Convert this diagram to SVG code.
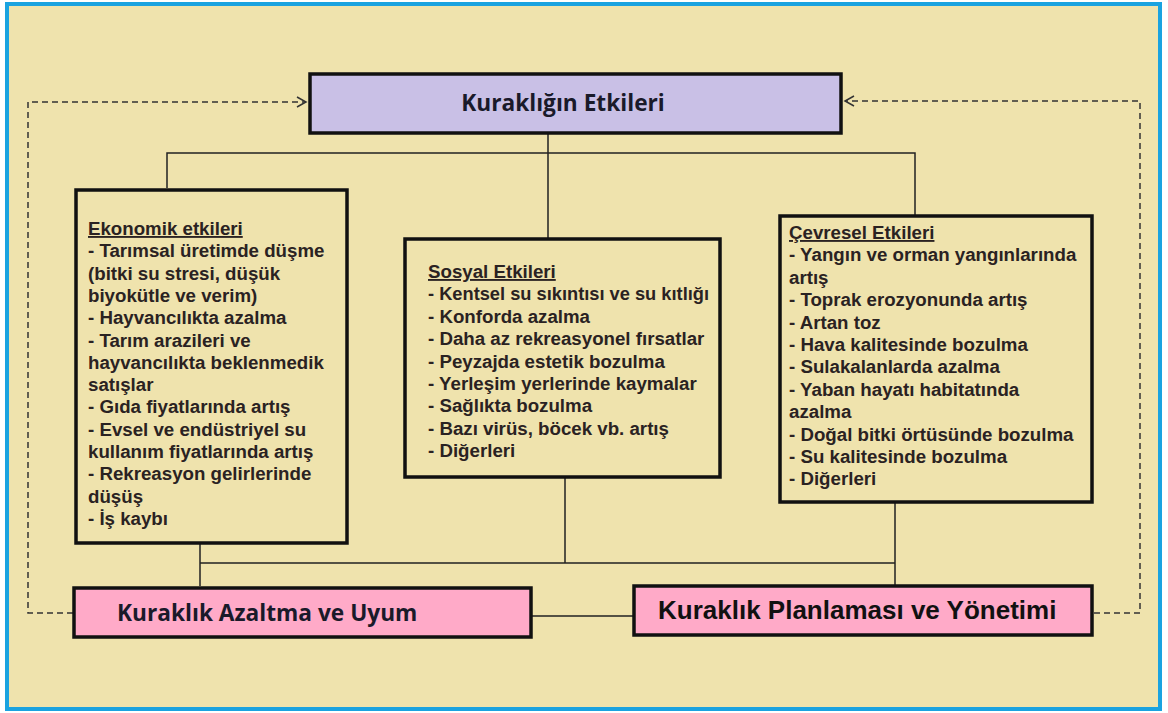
<svg xmlns="http://www.w3.org/2000/svg" width="1168" height="713" viewBox="0 0 1168 713">
<defs>
<style>
.box{stroke:#111;stroke-width:3.5}
.ln{stroke:#222;stroke-width:1.5;fill:none}
.dash{stroke:#333;stroke-width:1.5;fill:none;stroke-dasharray:6,4}
.body{font-family:"Liberation Sans",Arial,sans-serif;font-weight:bold;font-size:18.7px;fill:#2a2222}
.head{font-family:"Open Sans","Noto Sans",sans-serif;font-weight:bold;font-size:22.7px;fill:#1a1a2a}
.head2{font-family:"Liberation Sans",Arial,sans-serif;font-weight:bold;font-size:26px;fill:#111}
</style>
<marker id="arr" markerWidth="12" markerHeight="12" refX="10" refY="6" orient="auto" markerUnits="userSpaceOnUse">
<path d="M1,1 L10,6 L1,11" fill="none" stroke="#333" stroke-width="1.5"/>
</marker>
</defs>
<rect x="7" y="4" width="1153" height="705" fill="#efe3ad" stroke="#1aa3e0" stroke-width="4"/>
<g id="connectors">
<path class="dash" d="M73,613 H28 V102 H306" marker-end="url(#arr)"/>
<path class="dash" d="M1094,613 H1140 V101 H845" marker-end="url(#arr)"/>
<path class="ln" d="M548,133 V238 M167,188 V153 H915 V216"/>
<path class="ln" d="M200,543 V586 M200,563 H895 M565,477 V563 M895,502 V585 M531,616 H633"/>
</g>
<g id="top">
<rect class="box" x="310" y="74" width="531" height="59" fill="#c9c0e6"/>
<text class="head" x="563" y="111" text-anchor="middle">Kuraklığın Etkileri</text>
</g>
<g id="ekonomik">
<rect class="box" x="76" y="190" width="271" height="353" fill="#efe3ad"/>
<text class="body" x="88" y="235"><tspan text-decoration="underline">Ekonomik etkileri</tspan>
<tspan x="88" dy="22.3">- Tarımsal üretimde düşme</tspan>
<tspan x="88" dy="22.3">(bitki su stresi, düşük</tspan>
<tspan x="88" dy="22.3">biyokütle ve verim)</tspan>
<tspan x="88" dy="22.3">- Hayvancılıkta azalma</tspan>
<tspan x="88" dy="22.3">- Tarım arazileri ve</tspan>
<tspan x="88" dy="22.3">hayvancılıkta beklenmedik</tspan>
<tspan x="88" dy="22.3">satışlar</tspan>
<tspan x="88" dy="22.3">- Gıda fiyatlarında artış</tspan>
<tspan x="88" dy="22.3">- Evsel ve endüstriyel su</tspan>
<tspan x="88" dy="22.3">kullanım fiyatlarında artış</tspan>
<tspan x="88" dy="22.3">- Rekreasyon gelirlerinde</tspan>
<tspan x="88" dy="22.3">düşüş</tspan>
<tspan x="88" dy="22.3">- İş kaybı</tspan></text>
</g>
<g id="sosyal">
<rect class="box" x="405" y="239" width="315" height="238" fill="#efe3ad"/>
<text class="body" x="428" y="278"><tspan text-decoration="underline">Sosyal Etkileri</tspan>
<tspan x="428" dy="22.4" textLength="281" lengthAdjust="spacingAndGlyphs">- Kentsel su sıkıntısı ve su kıtlığı</tspan>
<tspan x="428" dy="22.4">- Konforda azalma</tspan>
<tspan x="428" dy="22.4">- Daha az rekreasyonel fırsatlar</tspan>
<tspan x="428" dy="22.4">- Peyzajda estetik bozulma</tspan>
<tspan x="428" dy="22.4">- Yerleşim yerlerinde kaymalar</tspan>
<tspan x="428" dy="22.4">- Sağlıkta bozulma</tspan>
<tspan x="428" dy="22.4">- Bazı virüs, böcek vb. artış</tspan>
<tspan x="428" dy="22.4">- Diğerleri</tspan></text>
</g>
<g id="cevresel">
<rect class="box" x="780" y="216" width="312" height="286" fill="#efe3ad"/>
<text class="body" x="789" y="239"><tspan text-decoration="underline">Çevresel Etkileri</tspan>
<tspan x="789" dy="22.4">- Yangın ve orman yangınlarında</tspan>
<tspan x="789" dy="22.4">artış</tspan>
<tspan x="789" dy="22.4">- Toprak erozyonunda artış</tspan>
<tspan x="789" dy="22.4">- Artan toz</tspan>
<tspan x="789" dy="22.4">- Hava kalitesinde bozulma</tspan>
<tspan x="789" dy="22.4">- Sulakalanlarda azalma</tspan>
<tspan x="789" dy="22.4">- Yaban hayatı habitatında</tspan>
<tspan x="789" dy="22.4">azalma</tspan>
<tspan x="789" dy="22.4">- Doğal bitki örtüsünde bozulma</tspan>
<tspan x="789" dy="22.4">- Su kalitesinde bozulma</tspan>
<tspan x="789" dy="22.4">- Diğerleri</tspan></text>
</g>
<g id="azaltma">
<rect class="box" x="74" y="588" width="457" height="49" fill="#ffaac8"/>
<text class="head" x="117" y="621">Kuraklık Azaltma ve Uyum</text>
</g>
<g id="planlama">
<rect class="box" x="634" y="586" width="458" height="49" fill="#ffaac8"/>
<text class="head2" x="658" y="619">Kuraklık Planlaması ve Yönetimi</text>
</g>
</svg>
